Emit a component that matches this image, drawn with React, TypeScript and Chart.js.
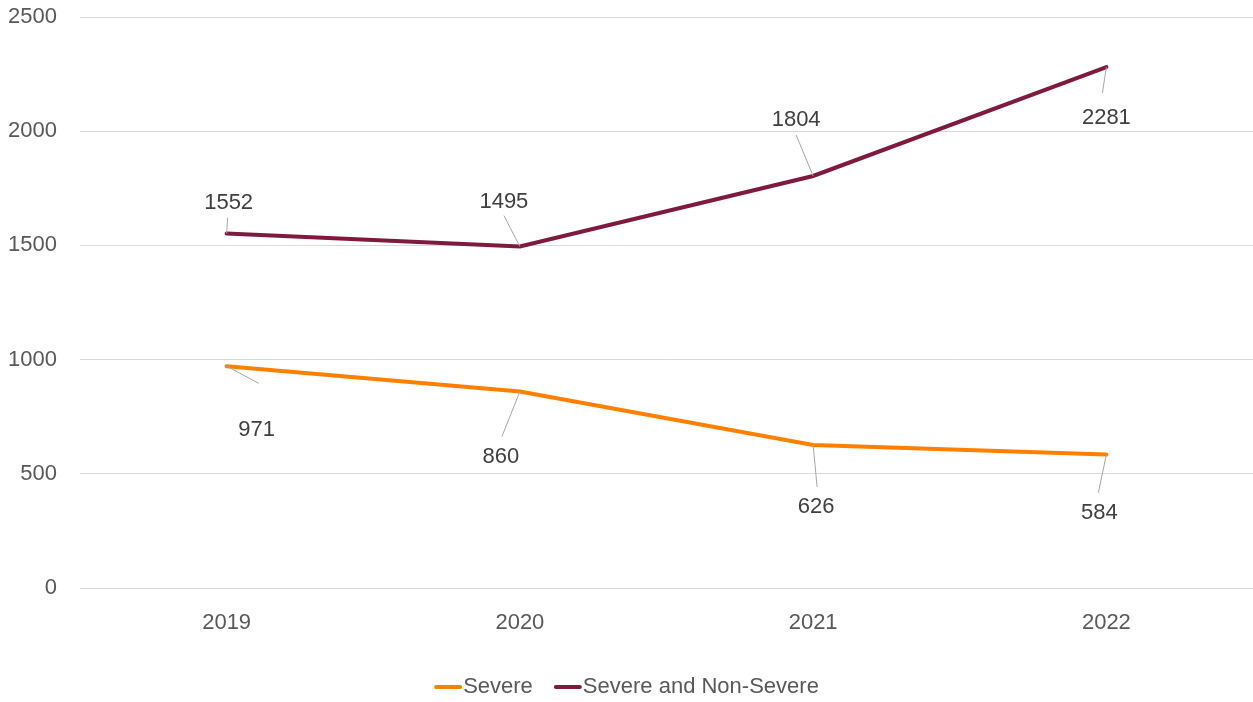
import React, { useEffect, useRef } from "react";
import { Chart, registerables } from "chart.js";

Chart.register(...registerables);

const categories = ["2019", "2020", "2021", "2022"];
const severe = [971, 860, 626, 584];
const severeAndNonSevere = [1552, 1495, 1804, 2281];
const seriesNames = ["Severe", "Severe and Non-Severe"];
const yTicks = [0, 500, 1000, 1500, 2000, 2500];

// label placement offsets (px) relative to each point: [dx, dy]
const severeLabelOffsets = [[30, 64], [-19, 65], [3, 62], [-7, 58]];
const totalLabelOffsets = [[2, -31], [-16, -45], [-17, -56], [0, 51]];
// leader line end offsets (px) relative to each point
const severeLeaderEnds = [[32, 17], [-18, 45], [4, 42], [-8, 38]];
const totalLeaderEnds = [[1, -16], [-16, -31], [-17, -41], [-4, 26]];

const FONT = "'Liberation Sans', Arial, sans-serif";
const FS = 22;
const COLORS = ["#FF8000", "#7F1A3E"];

const labelPlugin = {
  id: "leaderLabels",
  afterDatasetsDraw(chart: any) {
    const ctx = chart.ctx;
    const offsetsList = [severeLabelOffsets, totalLabelOffsets];
    const leaderList = [severeLeaderEnds, totalLeaderEnds];
    chart.data.datasets.forEach((ds: any, di: number) => {
      const meta = chart.getDatasetMeta(di);
      meta.data.forEach((pt: any, i: number) => {
        const [dx, dy] = offsetsList[di][i];
        const [ex, ey] = leaderList[di][i];
        ctx.save();
        ctx.strokeStyle = "#A6A6A6";
        ctx.lineWidth = 1;
        ctx.beginPath();
        ctx.moveTo(pt.x, pt.y);
        ctx.lineTo(pt.x + ex, pt.y + ey);
        ctx.stroke();
        ctx.fillStyle = "#404040";
        ctx.font = FS + "px " + FONT;
        ctx.textAlign = "center";
        ctx.textBaseline = "middle";
        ctx.fillText(String(ds.data[i]), pt.x + dx, pt.y + dy);
        ctx.restore();
      });
    });
  },
};

const legendPlugin = {
  id: "customLegend",
  afterDraw(chart: any) {
    const ctx = chart.ctx;
    ctx.save();
    ctx.font = FS + "px " + FONT;
    ctx.textBaseline = "middle";
    ctx.textAlign = "left";
    const y = 687;
    const lineW = 28;
    const gap = 21;
    const widths = seriesNames.map((n) => lineW + 1 + ctx.measureText(n).width);
    const total = widths.reduce((a, b) => a + b, 0) + gap * (seriesNames.length - 1);
    let x = (chart.width - total) / 2;
    seriesNames.forEach((name, i) => {
      ctx.strokeStyle = COLORS[i];
      ctx.lineWidth = 4;
      ctx.lineCap = "round";
      ctx.beginPath();
      ctx.moveTo(x + 2, y);
      ctx.lineTo(x + lineW - 2, y);
      ctx.stroke();
      ctx.fillStyle = "#595959";
      ctx.fillText(name, x + lineW + 1, y);
      x += widths[i] + gap;
    });
    ctx.restore();
  },
};

export default function App() {
  const ref = useRef<HTMLCanvasElement | null>(null);
  useEffect(() => {
    document.body.style.margin = "0";
    const chart = new Chart(ref.current!, {
      type: "line",
      data: {
        labels: categories,
        datasets: [
          {
            label: seriesNames[0],
            data: severe,
            borderColor: COLORS[0],
            backgroundColor: COLORS[0],
            borderWidth: 4,
            pointRadius: 0,
            tension: 0,
            borderCapStyle: "round",
          },
          {
            label: seriesNames[1],
            data: severeAndNonSevere,
            borderColor: COLORS[1],
            backgroundColor: COLORS[1],
            borderWidth: 4,
            pointRadius: 0,
            tension: 0,
            borderCapStyle: "round",
          },
        ],
      },
      options: {
        animation: false,
        responsive: false,
        maintainAspectRatio: false,
        layout: { autoPadding: false, padding: { top: 17, right: 0, bottom: 0, left: 0 } },
        plugins: { legend: { display: false }, tooltip: { enabled: false } },
        scales: {
          x: {
            offset: true,
            grid: { display: false, drawTicks: false },
            border: { display: false },
            ticks: { color: "#595959", font: { size: FS, family: FONT }, padding: 22, maxRotation: 0 },
            afterFit(scale: any) {
              scale.height = 114;
            },
          },
          y: {
            min: 0,
            max: 2500,
            afterBuildTicks(scale: any) {
              scale.ticks = yTicks.map((v) => ({ value: v }));
            },
            grid: { color: "#D9D9D9", lineWidth: 1, drawTicks: false },
            border: { display: false },
            ticks: {
              color: "#595959",
              font: { size: FS, family: FONT },
              padding: 23,
              callback: (v: any) => String(v),
            },
            afterFit(scale: any) {
              scale.width = 80;
              scale.paddingTop = 0;
              scale.paddingBottom = 0;
            },
          },
        },
      },
      plugins: [labelPlugin, legendPlugin],
    });
    return () => chart.destroy();
  }, []);
  return (
    <div style={{ position: "absolute", left: 0, top: 0, width: 1253, height: 702 }}>
      <canvas ref={ref} width={1253} height={702} style={{ width: 1253, height: 702 }} />
    </div>
  );
}
